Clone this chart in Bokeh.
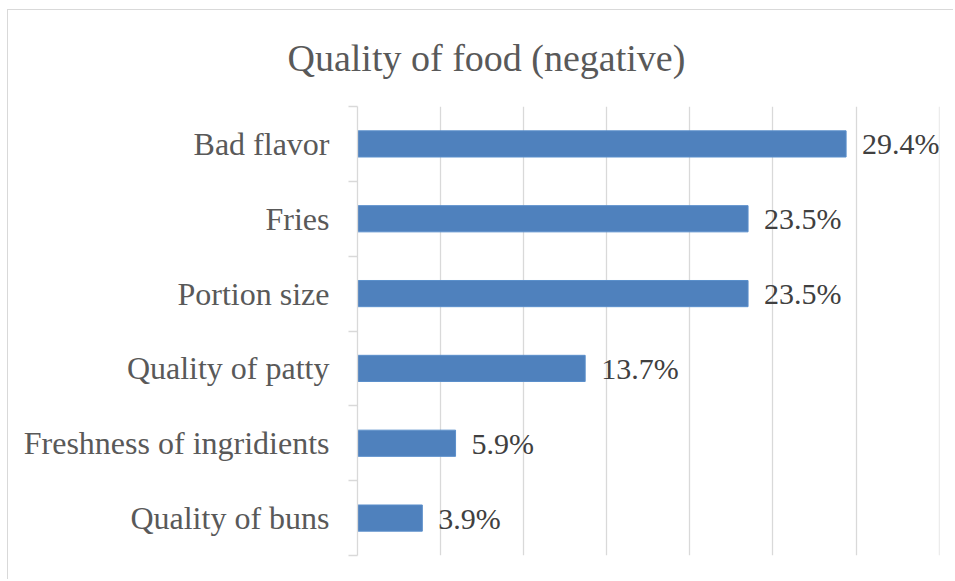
from bokeh.plotting import figure
from bokeh.models import FixedTicker, ColumnDataSource, LabelSet
from bokeh.embed import file_html
from bokeh.resources import INLINE

categories = ["Bad flavor", "Fries", "Portion size", "Quality of patty",
              "Freshness of ingridients", "Quality of buns"]
values = [0.294, 0.235, 0.235, 0.137, 0.059, 0.039]
value_labels = ["29.4%", "23.5%", "23.5%", "13.7%", "5.9%", "3.9%"]
title_text = "Quality of food (negative)"

n = len(categories)
ypos = [n - i - 0.5 for i in range(n)]

OX, OY = 9, 11          # canvas origin inside page (after margin + border)
W, H = 955 - OX, 581 - OY
p = figure(width=W, height=H, output_backend="svg", toolbar_location=None,
           x_range=(0, 0.3502), y_range=(0, n),
           min_border_left=358 - OX, min_border_right=W - (940 - OX),
           min_border_top=107 - OY, min_border_bottom=H - (556 - OY),
           title=title_text)
p.margin = (OY - 2, 0, 0, OX - 2)
p.styles = {"border-left": "1.5px solid #d9d9d9", "border-top": "1.5px solid #d9d9d9"}
p.outline_line_color = None
p.background_fill_color = "white"
p.border_fill_color = "white"

p.title.align = "left"
p.title.offset = -70
p.title.vertical_align = "top"
p.title.text_font = "Liberation Serif"
p.title.text_font_size = "38px"
p.title.text_font_style = "normal"
p.title.text_color = "#595959"
p.title.standoff = 51

src = ColumnDataSource(dict(y=ypos, v=values, lab=value_labels))
p.hbar(y="y", left=0, right="v", height=0.35, source=src,
       fill_color="#4F81BD", line_color="#5B8FCB", line_width=1)

labels = LabelSet(x="v", y="y", text="lab", source=src, x_offset=16,
                  text_baseline="middle", text_align="left",
                  text_font="Liberation Serif", text_font_size="30px",
                  text_color="#404040")
p.add_layout(labels)

p.xaxis.visible = False
p.xgrid.ticker = FixedTicker(ticks=[0.05, 0.10, 0.15, 0.20, 0.25, 0.30, 0.35])
p.xgrid.grid_line_color = "#d9d9d9"
p.xgrid.grid_line_width = 1.3
p.ygrid.grid_line_color = None

ax = p.yaxis[0]
ax.ticker = FixedTicker(ticks=ypos, minor_ticks=list(range(n + 1)))
ax.major_label_overrides = {y: c for y, c in zip(ypos, categories)}
ax.major_tick_line_color = None
ax.major_tick_out = 0
ax.major_tick_in = 0
ax.minor_tick_line_color = "#d9d9d9"
ax.minor_tick_out = 9
ax.minor_tick_in = 0
ax.minor_tick_line_width = 1.3
ax.axis_line_color = "#d9d9d9"
ax.axis_line_width = 1.3
ax.major_label_standoff = 19
ax.major_label_text_font = "Liberation Serif"
ax.major_label_text_font_size = "32px"
ax.major_label_text_color = "#595959"

open("out.html", "w").write(file_html(p, INLINE))
